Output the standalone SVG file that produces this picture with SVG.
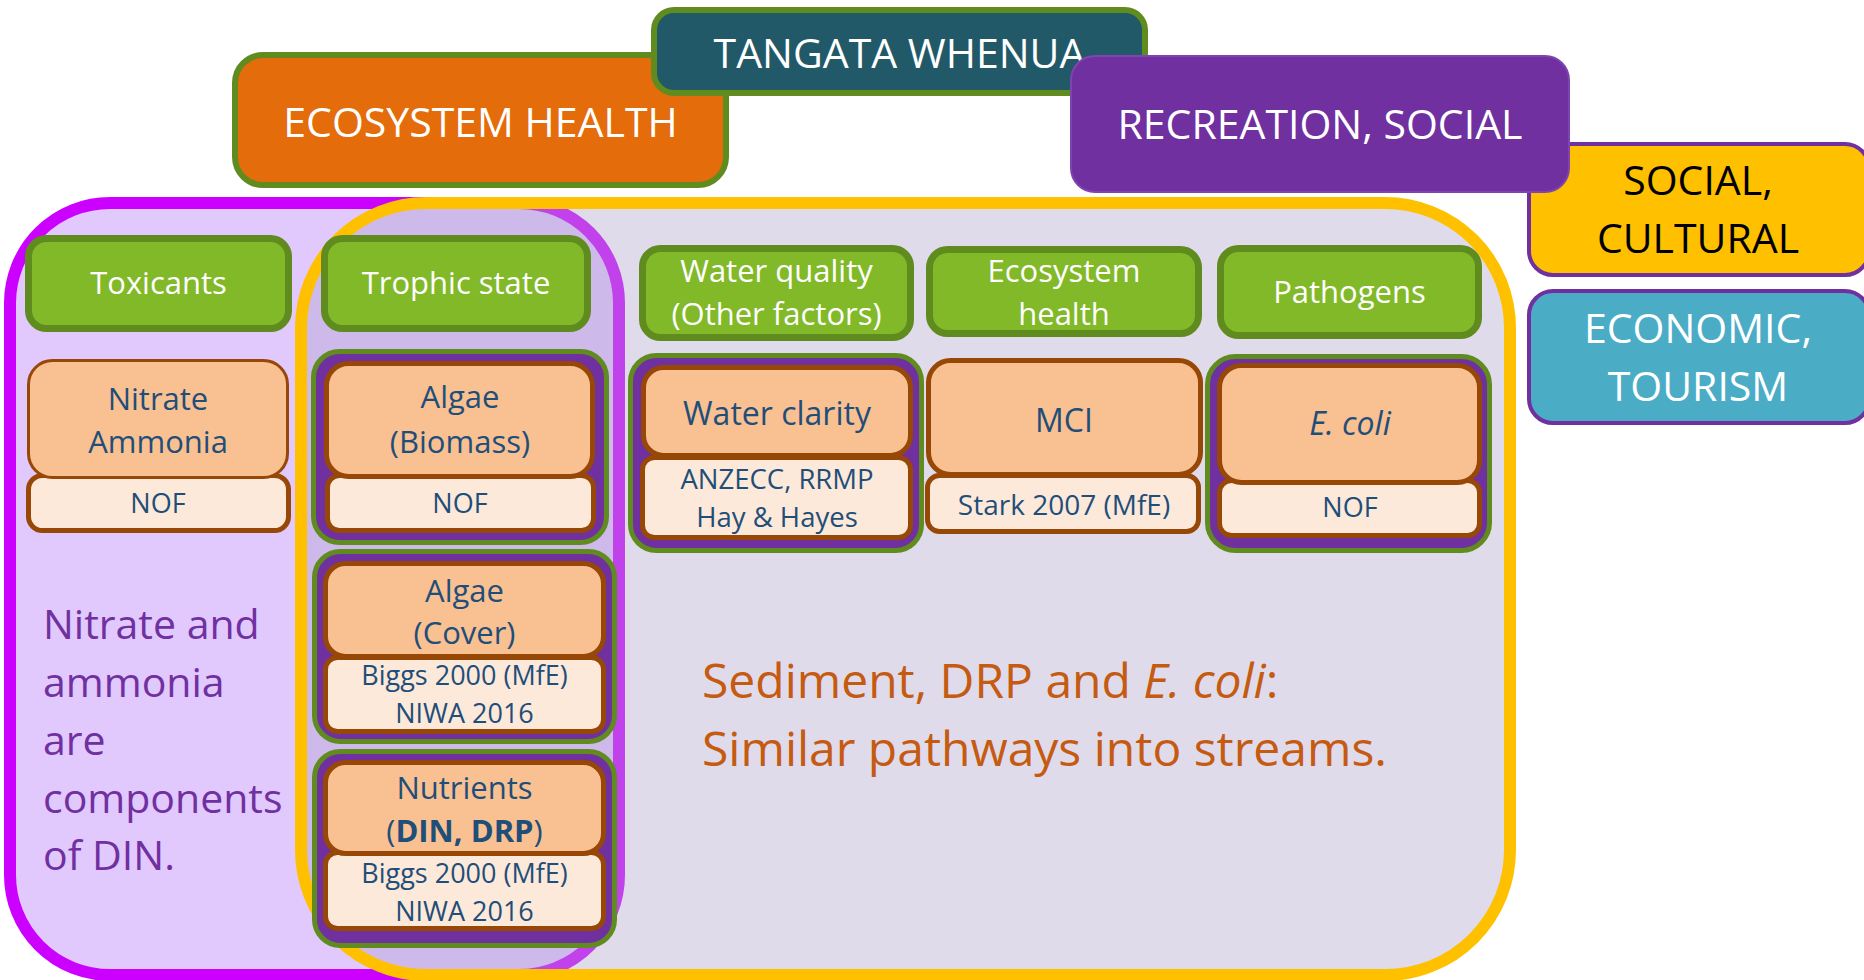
<svg xmlns="http://www.w3.org/2000/svg" width="1864" height="980" viewBox="0 0 1864 980">
<style>
text{font-family:'Open Sans','Noto Sans','Liberation Sans',sans-serif;text-anchor:middle}
.big{font-size:41px;fill:#fff}
.hdr{fill:#82b929;stroke:#5f8b1f;stroke-width:7}
.hdrt{font-size:31px;fill:#fff}
.grp{fill:#7030a0;stroke:#5f8b1f;stroke-width:5}
.org{fill:#f9c092;stroke:#974706;stroke-width:5}
.org3{fill:#f9c092;stroke:#974706;stroke-width:3}
.sub{fill:#fde9d9;stroke:#974706;stroke-width:5}
.ot{font-size:31px;fill:#1f4e79}
.st{font-size:27px;fill:#1f4e79}
</style>

<g id="container-magenta">
<rect x="10" y="203" width="609" height="772" rx="100" fill="#e1c8fd" stroke="#cc00ff" stroke-width="12"/>
</g>
<g id="container-yellow">
<rect x="301" y="203" width="1209" height="772" rx="125" fill="#b1a5cd" fill-opacity="0.4" stroke="#ffc000" stroke-width="12"/>
</g>

<g id="ecosystem-health">
<rect x="235" y="55" width="491" height="130" rx="28" fill="#e46c0a" stroke="#5f8b1f" stroke-width="6"/>
<text class="big" x="480.5" y="137">ECOSYSTEM HEALTH</text>
</g>
<g id="tangata-whenua">
<rect x="654" y="10" width="491" height="83" rx="20" fill="#215968" stroke="#5f8b1f" stroke-width="6"/>
<text class="big" x="899.5" y="68">TANGATA WHENUA</text>
</g>
<g id="social-cultural">
<rect x="1529" y="144" width="340" height="131" rx="24" fill="#ffc000" stroke="#7030a0" stroke-width="4"/>
<text class="big" x="1698" y="195" style="fill:#000">SOCIAL,</text>
<text class="big" x="1698" y="253" style="fill:#000">CULTURAL</text>
</g>
<g id="economic-tourism">
<rect x="1529" y="291" width="340" height="132" rx="24" fill="#4bacc6" stroke="#7030a0" stroke-width="4"/>
<text class="big" x="1698" y="343">ECONOMIC,</text>
<text class="big" x="1698" y="401">TOURISM</text>
</g>
<g id="recreation-social">
<rect x="1071" y="56" width="498" height="136" rx="24" fill="#7030a0" stroke="#7d45ad" stroke-width="2"/>
<text class="big" x="1320" y="139">RECREATION, SOCIAL</text>
</g>

<g id="hdr-toxicants">
<rect class="hdr" x="28.5" y="238.5" width="260" height="90" rx="18"/>
<text class="hdrt" x="158.5" y="294">Toxicants</text>
</g>
<g id="hdr-trophic">
<rect class="hdr" x="324.5" y="238.5" width="263" height="90" rx="18"/>
<text class="hdrt" x="456" y="294">Trophic state</text>
</g>
<g id="hdr-water-quality">
<rect class="hdr" x="642.5" y="248.5" width="268" height="89" rx="18"/>
<text class="hdrt" x="776.5" y="282">Water quality</text>
<text class="hdrt" x="776.5" y="325">(Other factors)</text>
</g>
<g id="hdr-ecosystem">
<rect class="hdr" x="929.5" y="249.5" width="269" height="84" rx="18"/>
<text class="hdrt" x="1064" y="282">Ecosystem</text>
<text class="hdrt" x="1064" y="325">health</text>
</g>
<g id="hdr-pathogens">
<rect class="hdr" x="1220.5" y="248.5" width="258" height="87" rx="18"/>
<text class="hdrt" x="1349.5" y="303">Pathogens</text>
</g>

<g id="nitrate-ammonia">
<rect class="sub" x="28.5" y="475.5" width="260" height="55" rx="14"/>
<rect class="org3" x="28.5" y="360.5" width="259" height="117" rx="24"/>
<text class="ot" x="158" y="410">Nitrate</text>
<text class="ot" x="158" y="453">Ammonia</text>
<text class="st" x="158" y="513">NOF</text>
</g>

<g id="algae-biomass">
<rect class="grp" x="313.5" y="351.5" width="293" height="191" rx="26"/>
<rect class="sub" x="327.5" y="475.5" width="266" height="55" rx="12"/>
<rect class="org" x="326.5" y="363.5" width="266" height="113" rx="22"/>
<text class="ot" x="460" y="408">Algae</text>
<text class="ot" x="460" y="453">(Biomass)</text>
<text class="st" x="460" y="513">NOF</text>
</g>

<g id="algae-cover">
<rect class="grp" x="314.5" y="551.5" width="300" height="190" rx="26"/>
<rect class="sub" x="325.5" y="657.5" width="278" height="74" rx="12"/>
<rect class="org" x="325.5" y="563.5" width="278" height="93" rx="20"/>
<text class="ot" x="464.5" y="602">Algae</text>
<text class="ot" x="464.5" y="644">(Cover)</text>
<text class="st" x="464.5" y="685">Biggs 2000 (MfE)</text>
<text class="st" x="464.5" y="723">NIWA 2016</text>
</g>

<g id="nutrients">
<rect class="grp" x="314.5" y="751.5" width="300" height="194" rx="26"/>
<rect class="sub" x="325.5" y="852.5" width="278" height="76" rx="12"/>
<rect class="org" x="325.5" y="762.5" width="278" height="91" rx="20"/>
<text class="ot" x="464.5" y="799">Nutrients</text>
<text class="ot" x="464.5" y="842">(<tspan font-weight="bold">DIN, DRP</tspan>)</text>
<text class="st" x="464.5" y="883">Biggs 2000 (MfE)</text>
<text class="st" x="464.5" y="921">NIWA 2016</text>
</g>

<g id="water-clarity">
<rect class="grp" x="630.5" y="355.5" width="291" height="195" rx="26"/>
<rect class="sub" x="642.5" y="457.5" width="268" height="80" rx="12"/>
<rect class="org" x="643.5" y="367.5" width="267" height="88" rx="20"/>
<text class="ot" x="777" y="425" style="font-size:32px">Water clarity</text>
<text class="st" x="777" y="489" style="font-size:27.5px">ANZECC, RRMP</text>
<text class="st" x="777" y="527" style="font-size:27.5px">Hay &amp; Hayes</text>
</g>

<g id="mci">
<rect class="sub" x="927.5" y="475.5" width="271" height="56" rx="12"/>
<rect class="org" x="928.5" y="360.5" width="272" height="114" rx="22"/>
<text class="ot" x="1064" y="432" style="font-size:32px">MCI</text>
<text class="st" x="1064" y="515" style="font-size:28px">Stark 2007 (MfE)</text>
</g>

<g id="e-coli">
<rect class="grp" x="1207.5" y="356.5" width="282" height="194" rx="28"/>
<rect class="sub" x="1219.5" y="480.5" width="260" height="55" rx="12"/>
<rect class="org" x="1219.5" y="365.5" width="260" height="117" rx="22"/>
<text class="ot" x="1350" y="435" style="font-size:32px;font-style:italic">E. coli</text>
<text class="st" x="1350" y="517">NOF</text>
</g>

<g id="note-din" style="font-size:41px;fill:#7030a0">
<text x="43" y="639" style="text-anchor:start;fill:#7030a0">Nitrate and</text>
<text x="43" y="697" style="text-anchor:start;fill:#7030a0">ammonia</text>
<text x="43" y="755" style="text-anchor:start;fill:#7030a0">are</text>
<text x="43" y="813" style="text-anchor:start;fill:#7030a0">components</text>
<text x="43" y="870" style="text-anchor:start;fill:#7030a0">of DIN.</text>
</g>

<g id="note-sediment">
<text x="702" y="698" style="text-anchor:start;font-size:48px;fill:#c55a11">Sediment, DRP and <tspan font-style="italic">E. coli</tspan>:</text>
<text x="702" y="766" style="text-anchor:start;font-size:48px;fill:#c55a11">Similar pathways into streams.</text>
</g>

<g id="connectors"></g>
</svg>
